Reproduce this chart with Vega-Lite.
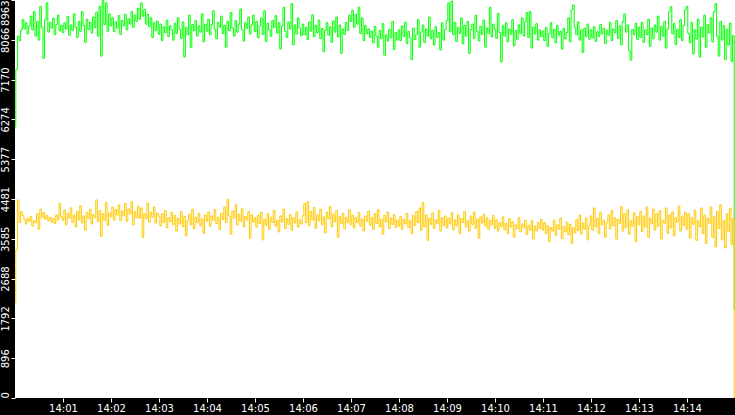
{
"$schema": "https://vega.github.io/schema/vega-lite/v6.json",
"width": 720,
"height": 398,
"autosize": {"type": "none"},
"padding": {"left": 15, "top": 0, "right": 0, "bottom": 17},
"background": "black",
"config": {"view": {"fill": "white", "stroke": null}},
"data": {"values": [
{"t":0,"g":6100,"o":2150},{"t":2,"g":7400,"o":3340},{"t":4,"g":8150,"o":4460},{"t":6,"g":8050,"o":3950},{"t":8,"g":8280,"o":4200},{"t":10,"g":8520,"o":4110},{"t":12,"g":8310,"o":4020},{"t":14,"g":8450,"o":3920},{"t":16,"g":8200,"o":4050},{"t":18,"g":8380,"o":3980},{"t":20,"g":8600,"o":4090},{"t":22,"g":8290,"o":3870},{"t":24,"g":8700,"o":4000},{"t":26,"g":8150,"o":3950},{"t":28,"g":8480,"o":4150},{"t":30,"g":8060,"o":3800},{"t":32,"g":8820,"o":4250},{"t":34,"g":8350,"o":4060},{"t":36,"g":7650,"o":4180},{"t":38,"g":8520,"o":4030},{"t":40,"g":8900,"o":4110},{"t":42,"g":8240,"o":3990},{"t":44,"g":8460,"o":4070},{"t":46,"g":8330,"o":3960},{"t":48,"g":8550,"o":4040},{"t":50,"g":8180,"o":3930},{"t":52,"g":8410,"o":4120},{"t":54,"g":8620,"o":4010},{"t":56,"g":8270,"o":4380},{"t":58,"g":8390,"o":4080},
{"t":60,"g":8230,"o":4000},{"t":62,"g":8450,"o":4230},{"t":64,"g":8310,"o":3900},{"t":66,"g":8590,"o":4150},{"t":68,"g":8170,"o":4050},{"t":70,"g":8400,"o":4280},{"t":72,"g":8280,"o":3960},{"t":74,"g":8650,"o":4120},{"t":76,"g":8350,"o":3850},{"t":78,"g":8120,"o":4200},{"t":80,"g":8480,"o":4010},{"t":82,"g":8260,"o":4330},{"t":84,"g":8700,"o":3940},{"t":86,"g":8390,"o":4100},{"t":88,"g":8010,"o":3780},{"t":90,"g":8530,"o":4180},{"t":92,"g":8300,"o":4040},{"t":94,"g":8460,"o":4250},{"t":96,"g":8220,"o":3920},{"t":98,"g":8580,"o":4130},{"t":100,"g":8340,"o":4060},{"t":102,"g":8690,"o":4460},{"t":104,"g":8150,"o":3970},{"t":106,"g":8820,"o":4220},{"t":108,"g":7700,"o":3640},{"t":110,"g":8960,"o":4150},{"t":112,"g":8410,"o":4000},{"t":114,"g":8900,"o":4400},{"t":116,"g":8260,"o":3890},{"t":118,"g":8650,"o":4170},
{"t":120,"g":8380,"o":4080},{"t":122,"g":8560,"o":4300},{"t":124,"g":8250,"o":4010},{"t":126,"g":8470,"o":4240},{"t":128,"g":8330,"o":4120},{"t":130,"g":8610,"o":4350},{"t":132,"g":8190,"o":3990},{"t":134,"g":8500,"o":4210},{"t":136,"g":8380,"o":4100},{"t":138,"g":8640,"o":4380},{"t":140,"g":8290,"o":3980},{"t":142,"g":8540,"o":4260},{"t":144,"g":8420,"o":4140},{"t":146,"g":8700,"o":4420},{"t":148,"g":8350,"o":3900},{"t":150,"g":8620,"o":4200},{"t":152,"g":8480,"o":4060},{"t":154,"g":8780,"o":4320},{"t":156,"g":8530,"o":4050},{"t":158,"g":8900,"o":4280},{"t":160,"g":8600,"o":3620},{"t":162,"g":8750,"o":4150},{"t":164,"g":8420,"o":4040},{"t":166,"g":8640,"o":4390},{"t":168,"g":8360,"o":3960},{"t":170,"g":8560,"o":4180},{"t":172,"g":8120,"o":4070},{"t":174,"g":8450,"o":4300},{"t":176,"g":8280,"o":3940},{"t":178,"g":8490,"o":4160},
{"t":180,"g":8190,"o":4100},{"t":182,"g":8420,"o":3880},{"t":184,"g":8050,"o":4150},{"t":186,"g":8360,"o":3950},{"t":188,"g":8230,"o":4220},{"t":190,"g":8510,"o":3830},{"t":192,"g":8140,"o":4060},{"t":194,"g":8380,"o":3970},{"t":196,"g":8290,"o":4180},{"t":198,"g":8060,"o":3900},{"t":200,"g":8440,"o":4110},{"t":202,"g":8210,"o":3760},{"t":204,"g":8560,"o":4040},{"t":206,"g":8300,"o":3920},{"t":208,"g":8100,"o":4200},{"t":210,"g":8470,"o":3860},{"t":212,"g":7680,"o":4090},{"t":214,"g":8350,"o":3650},{"t":216,"g":8180,"o":3990},{"t":218,"g":8620,"o":4140},{"t":220,"g":7890,"o":3900},{"t":222,"g":8410,"o":4250},{"t":224,"g":8270,"o":3810},{"t":226,"g":8500,"o":4070},{"t":228,"g":8150,"o":3950},{"t":230,"g":8380,"o":4160},{"t":232,"g":8240,"o":3880},{"t":234,"g":8650,"o":4030},{"t":236,"g":8020,"o":3710},{"t":238,"g":8420,"o":4120},
{"t":240,"g":8260,"o":3980},{"t":242,"g":8530,"o":4190},{"t":244,"g":8180,"o":3870},{"t":246,"g":8410,"o":4100},{"t":248,"g":8720,"o":4000},{"t":250,"g":8300,"o":4240},{"t":252,"g":8090,"o":3930},{"t":254,"g":8460,"o":4070},{"t":256,"g":8350,"o":3800},{"t":258,"g":8600,"o":4160},{"t":260,"g":8210,"o":4020},{"t":262,"g":8390,"o":4300},{"t":264,"g":7900,"o":3950},{"t":266,"g":8480,"o":4470},{"t":268,"g":8270,"o":4100},{"t":270,"g":8680,"o":3690},{"t":272,"g":8330,"o":4210},{"t":274,"g":8150,"o":4050},{"t":276,"g":8500,"o":4350},{"t":278,"g":8240,"o":3900},{"t":280,"g":8420,"o":4140},{"t":282,"g":8760,"o":3980},{"t":284,"g":8290,"o":4260},{"t":286,"g":8040,"o":3850},{"t":288,"g":8450,"o":4090},{"t":290,"g":8320,"o":4010},{"t":292,"g":8580,"o":4200},{"t":294,"g":8200,"o":3600},{"t":296,"g":8400,"o":4120},{"t":298,"g":8620,"o":3960},
{"t":300,"g":8250,"o":4060},{"t":302,"g":8480,"o":3850},{"t":304,"g":8110,"o":4110},{"t":306,"g":8380,"o":3930},{"t":308,"g":8560,"o":4180},{"t":310,"g":8190,"o":3560},{"t":312,"g":8720,"o":4020},{"t":314,"g":8030,"o":3890},{"t":316,"g":8440,"o":4150},{"t":318,"g":8290,"o":3800},{"t":320,"g":8150,"o":4070},{"t":322,"g":8500,"o":3950},{"t":324,"g":8340,"o":4220},{"t":326,"g":8610,"o":3870},{"t":328,"g":8220,"o":4000},{"t":330,"g":8450,"o":3740},{"t":332,"g":7860,"o":4100},{"t":334,"g":8380,"o":3960},{"t":336,"g":8800,"o":4250},{"t":338,"g":8260,"o":3820},{"t":340,"g":8120,"o":4040},{"t":342,"g":8470,"o":3910},{"t":344,"g":8310,"o":4130},{"t":346,"g":8880,"o":3780},{"t":348,"g":7950,"o":4060},{"t":350,"g":8400,"o":3940},{"t":352,"g":8200,"o":4190},{"t":354,"g":8560,"o":3850},{"t":356,"g":8330,"o":4010},{"t":358,"g":8160,"o":3920},
{"t":360,"g":8420,"o":4100},{"t":362,"g":8180,"o":4380},{"t":364,"g":8350,"o":3950},{"t":366,"g":8070,"o":4420},{"t":368,"g":8470,"o":3880},{"t":370,"g":8260,"o":4200},{"t":372,"g":8630,"o":4010},{"t":374,"g":8140,"o":4290},{"t":376,"g":8390,"o":3820},{"t":378,"g":8230,"o":4120},{"t":380,"g":8510,"o":3990},{"t":382,"g":8090,"o":4250},{"t":384,"g":8320,"o":3900},{"t":386,"g":7800,"o":4080},{"t":388,"g":8280,"o":3720},{"t":390,"g":8450,"o":4180},{"t":392,"g":8170,"o":4040},{"t":394,"g":8360,"o":4310},{"t":396,"g":8010,"o":3860},{"t":398,"g":8490,"o":4140},{"t":400,"g":8240,"o":3970},{"t":402,"g":8580,"o":4220},{"t":404,"g":8130,"o":3620},{"t":406,"g":8400,"o":4090},{"t":408,"g":7760,"o":3930},{"t":410,"g":8310,"o":4160},{"t":412,"g":8190,"o":3810},{"t":414,"g":8460,"o":4060},{"t":416,"g":8280,"o":3950},{"t":418,"g":8620,"o":4240},
{"t":420,"g":8480,"o":3900},{"t":422,"g":8730,"o":4120},{"t":424,"g":8350,"o":3830},{"t":426,"g":8640,"o":4060},{"t":428,"g":8420,"o":3950},{"t":430,"g":8800,"o":4180},{"t":432,"g":8210,"o":3870},{"t":434,"g":8560,"o":4030},{"t":436,"g":8050,"o":3760},{"t":438,"g":8390,"o":4100},{"t":440,"g":8200,"o":3980},{"t":442,"g":8310,"o":4210},{"t":444,"g":8120,"o":3890},{"t":446,"g":8260,"o":4070},{"t":448,"g":8000,"o":3800},{"t":450,"g":8370,"o":4150},{"t":452,"g":8150,"o":3930},{"t":454,"g":7900,"o":4240},{"t":456,"g":8280,"o":3850},{"t":458,"g":8090,"o":4020},{"t":460,"g":8430,"o":3690},{"t":462,"g":7720,"o":4110},{"t":464,"g":8180,"o":3960},{"t":466,"g":8040,"o":4190},{"t":468,"g":8300,"o":3820},{"t":470,"g":8110,"o":4050},{"t":472,"g":8480,"o":3910},{"t":474,"g":7850,"o":4130},{"t":476,"g":8230,"o":3840},{"t":478,"g":8060,"o":4000},
{"t":480,"g":8290,"o":3870},{"t":482,"g":8050,"o":4090},{"t":484,"g":8380,"o":3800},{"t":486,"g":8140,"o":4020},{"t":488,"g":8460,"o":3920},{"t":490,"g":7980,"o":4160},{"t":492,"g":8250,"o":3840},{"t":494,"g":8110,"o":4000},{"t":496,"g":7620,"o":3700},{"t":498,"g":8330,"o":4110},{"t":500,"g":8070,"o":3890},{"t":502,"g":8190,"o":4200},{"t":504,"g":8520,"o":3950},{"t":506,"g":7900,"o":4280},{"t":508,"g":8240,"o":3780},{"t":510,"g":8400,"o":4400},{"t":512,"g":8010,"o":3860},{"t":514,"g":8310,"o":4120},{"t":516,"g":8150,"o":3550},{"t":518,"g":8580,"o":4050},{"t":520,"g":8090,"o":3910},{"t":522,"g":8280,"o":4170},{"t":524,"g":7950,"o":3820},{"t":526,"g":8360,"o":4010},{"t":528,"g":8120,"o":3930},{"t":530,"g":8230,"o":4230},{"t":532,"g":7840,"o":3760},{"t":534,"g":8450,"o":4060},{"t":536,"g":8060,"o":3880},{"t":538,"g":8300,"o":4100},
{"t":540,"g":8500,"o":3830},{"t":542,"g":8900,"o":4050},{"t":544,"g":8250,"o":3920},{"t":546,"g":8940,"o":4170},{"t":548,"g":8180,"o":3790},{"t":550,"g":8460,"o":4010},{"t":552,"g":8030,"o":3880},{"t":554,"g":8340,"o":4120},{"t":556,"g":8210,"o":3700},{"t":558,"g":8560,"o":4040},{"t":560,"g":7980,"o":3950},{"t":562,"g":8390,"o":4200},{"t":564,"g":8150,"o":3850},{"t":566,"g":8480,"o":3990},{"t":568,"g":7760,"o":3760},{"t":570,"g":8300,"o":4100},{"t":572,"g":8420,"o":3910},{"t":574,"g":8100,"o":4190},{"t":576,"g":8620,"o":3820},{"t":578,"g":8250,"o":4030},{"t":580,"g":8040,"o":3600},{"t":582,"g":8370,"o":4080},{"t":584,"g":8190,"o":3940},{"t":586,"g":8510,"o":4140},{"t":588,"g":7900,"o":3870},{"t":590,"g":8330,"o":4060},{"t":592,"g":8210,"o":3800},{"t":594,"g":8800,"o":4000},{"t":596,"g":8130,"o":3900},{"t":598,"g":8420,"o":4110},
{"t":600,"g":8300,"o":3820},{"t":602,"g":8100,"o":4010},{"t":604,"g":8660,"o":3760},{"t":606,"g":8230,"o":3950},{"t":608,"g":7570,"o":3860},{"t":610,"g":8380,"o":4080},{"t":612,"g":8150,"o":3790},{"t":614,"g":8450,"o":3930},{"t":616,"g":8020,"o":3700},{"t":618,"g":8310,"o":4040},{"t":620,"g":8190,"o":3850},{"t":622,"g":8520,"o":3970},{"t":624,"g":7930,"o":3620},{"t":626,"g":8280,"o":3900},{"t":628,"g":8080,"o":3810},{"t":630,"g":8400,"o":4060},{"t":632,"g":8210,"o":3740},{"t":634,"g":8560,"o":3920},{"t":636,"g":8150,"o":3830},{"t":638,"g":8470,"o":4000},{"t":640,"g":8680,"o":3680},{"t":642,"g":8120,"o":3890},{"t":644,"g":8700,"o":3780},{"t":646,"g":7880,"o":3990},{"t":648,"g":8350,"o":3580},{"t":650,"g":8200,"o":3870},{"t":652,"g":8430,"o":3760},{"t":654,"g":8060,"o":3950},{"t":656,"g":8290,"o":3820},{"t":658,"g":8140,"o":4020},
{"t":660,"g":8260,"o":3780},{"t":662,"g":8050,"o":3950},{"t":664,"g":8340,"o":3700},{"t":666,"g":7920,"o":3880},{"t":668,"g":8210,"o":3520},{"t":670,"g":8450,"o":3840},{"t":672,"g":8110,"o":3760},{"t":674,"g":8300,"o":4000},{"t":676,"g":8000,"o":3660},{"t":678,"g":8390,"o":3900},{"t":680,"g":8170,"o":3800},{"t":682,"g":8260,"o":4050},{"t":684,"g":7860,"o":3590},{"t":686,"g":8320,"o":3860},{"t":688,"g":8090,"o":3740},{"t":690,"g":8230,"o":3960},{"t":692,"g":8560,"o":3680},{"t":694,"g":8020,"o":3910},{"t":696,"g":8740,"o":3480},{"t":698,"g":8850,"o":3830},{"t":700,"g":8350,"o":3720},{"t":702,"g":8180,"o":4020},{"t":704,"g":8470,"o":3770},{"t":706,"g":8060,"o":4120},{"t":708,"g":8290,"o":3690},{"t":710,"g":7780,"o":3940},{"t":712,"g":8330,"o":3800},{"t":714,"g":8140,"o":4060},{"t":716,"g":8420,"o":3560},{"t":718,"g":8080,"o":3880},
{"t":720,"g":8290,"o":4100},{"t":722,"g":8110,"o":3780},{"t":724,"g":8360,"o":4280},{"t":726,"g":8030,"o":3850},{"t":728,"g":8250,"o":4050},{"t":730,"g":8140,"o":3700},{"t":732,"g":8410,"o":4180},{"t":734,"g":8200,"o":3900},{"t":736,"g":8330,"o":4000},{"t":738,"g":7980,"o":3620},{"t":740,"g":8280,"o":3950},{"t":742,"g":8170,"o":4120},{"t":744,"g":8460,"o":3810},{"t":746,"g":8050,"o":4220},{"t":748,"g":8310,"o":3880},{"t":750,"g":8220,"o":4060},{"t":752,"g":8500,"o":3580},{"t":754,"g":8100,"o":4020},{"t":756,"g":8380,"o":3930},{"t":758,"g":7950,"o":4310},{"t":760,"g":8480,"o":3760},{"t":762,"g":8650,"o":4150},{"t":764,"g":8240,"o":3840},{"t":766,"g":8400,"o":4240},{"t":768,"g":7820,"o":3690},{"t":770,"g":7610,"o":3990},{"t":772,"g":8300,"o":3870},{"t":774,"g":8180,"o":4170},{"t":776,"g":8440,"o":3520},{"t":778,"g":8070,"o":4080},
{"t":780,"g":8350,"o":3900},{"t":782,"g":8120,"o":4200},{"t":784,"g":8460,"o":3750},{"t":786,"g":8010,"o":4100},{"t":788,"g":8290,"o":3850},{"t":790,"g":8180,"o":4300},{"t":792,"g":8530,"o":3620},{"t":794,"g":7920,"o":4050},{"t":796,"g":8330,"o":3920},{"t":798,"g":8090,"o":4250},{"t":800,"g":8400,"o":3780},{"t":802,"g":8240,"o":4150},{"t":804,"g":8600,"o":3870},{"t":806,"g":8060,"o":4220},{"t":808,"g":8370,"o":3580},{"t":810,"g":8150,"o":4000},{"t":812,"g":8480,"o":3940},{"t":814,"g":7880,"o":4280},{"t":816,"g":8310,"o":3710},{"t":818,"g":8700,"o":4120},{"t":820,"g":8810,"o":3830},{"t":822,"g":8200,"o":4190},{"t":824,"g":8430,"o":3650},{"t":826,"g":7960,"o":4060},{"t":828,"g":8300,"o":3960},{"t":830,"g":8120,"o":4320},{"t":832,"g":8520,"o":3760},{"t":834,"g":8050,"o":4090},{"t":836,"g":8390,"o":3880},{"t":838,"g":8740,"o":4180},
{"t":840,"g":8820,"o":3800},{"t":842,"g":8210,"o":4150},{"t":844,"g":8000,"o":3600},{"t":846,"g":8460,"o":4060},{"t":848,"g":7750,"o":3910},{"t":850,"g":8290,"o":4230},{"t":852,"g":8080,"o":3550},{"t":854,"g":8530,"o":4000},{"t":856,"g":7680,"o":3850},{"t":858,"g":8350,"o":4280},{"t":860,"g":8130,"o":3700},{"t":862,"g":8620,"o":4120},{"t":864,"g":7900,"o":3480},{"t":866,"g":8410,"o":4050},{"t":868,"g":8220,"o":3930},{"t":870,"g":8560,"o":4300},{"t":872,"g":8020,"o":3620},{"t":874,"g":8700,"o":4080},{"t":876,"g":8880,"o":3400},{"t":878,"g":8150,"o":4200},{"t":880,"g":7700,"o":3820},{"t":882,"g":8480,"o":4350},{"t":884,"g":8060,"o":3560},{"t":886,"g":8390,"o":4000},{"t":888,"g":7620,"o":3380},{"t":890,"g":8300,"o":4150},{"t":892,"g":7950,"o":3750},{"t":894,"g":8440,"o":4270},{"t":896,"g":7580,"o":3450},{"t":898,"g":8160,"o":4050},
{"t":900,"g":2000,"o":0}
]},
"transform": [{"fold": ["g", "o"], "as": ["series", "value"]}],
"mark": {"type": "line", "strokeWidth": 1, "interpolate": "step", "clip": true},
"encoding": {
  "x": {"field": "t", "type": "quantitative",
    "scale": {"domain": [0, 900], "nice": false, "zero": false},
    "axis": {"title": null, "grid": false, "domain": false,
      "values": [60,120,180,240,300,360,420,480,540,600,660,720,780,840],
      "labelExpr": "'14:' + (datum.value < 600 ? '0' : '') + (datum.value / 60)",
      "tickColor": "white", "tickSize": 4, "labelColor": "white",
      "labelFont": "DejaVu Sans", "labelFontSize": 10, "labelPadding": 1}},
  "y": {"field": "value", "type": "quantitative",
     "scale": {"domain": [0, 8963], "nice": false},
     "axis": {"title": null, "grid": false, "domain": false,
       "values": [0,896.3,1792.6,2688.9,3585.2,4481.5,5377.8,6274.1,7170.4,8066.7,8963],
       "labelExpr": "floor(datum.value)",
       "labelAngle": 270,
       "labelAlign": {"condition": [{"test": "datum.value == 0", "value": "left"}, {"test": "datum.value > 8900", "value": "right"}], "value": "center"},
       "labelBaseline": "bottom", "labelFlush": false, "labelOverlap": false, "labelBound": false,
       "tickColor": "white", "tickSize": 4, "labelColor": "white",
       "labelFont": "DejaVu Sans", "labelFontSize": 10, "labelPadding": 1}},
  "color": {"field": "series", "type": "nominal",
     "scale": {"domain": ["g", "o"], "range": ["#00ff00", "#ffc800"]}, "legend": null}
}
}
